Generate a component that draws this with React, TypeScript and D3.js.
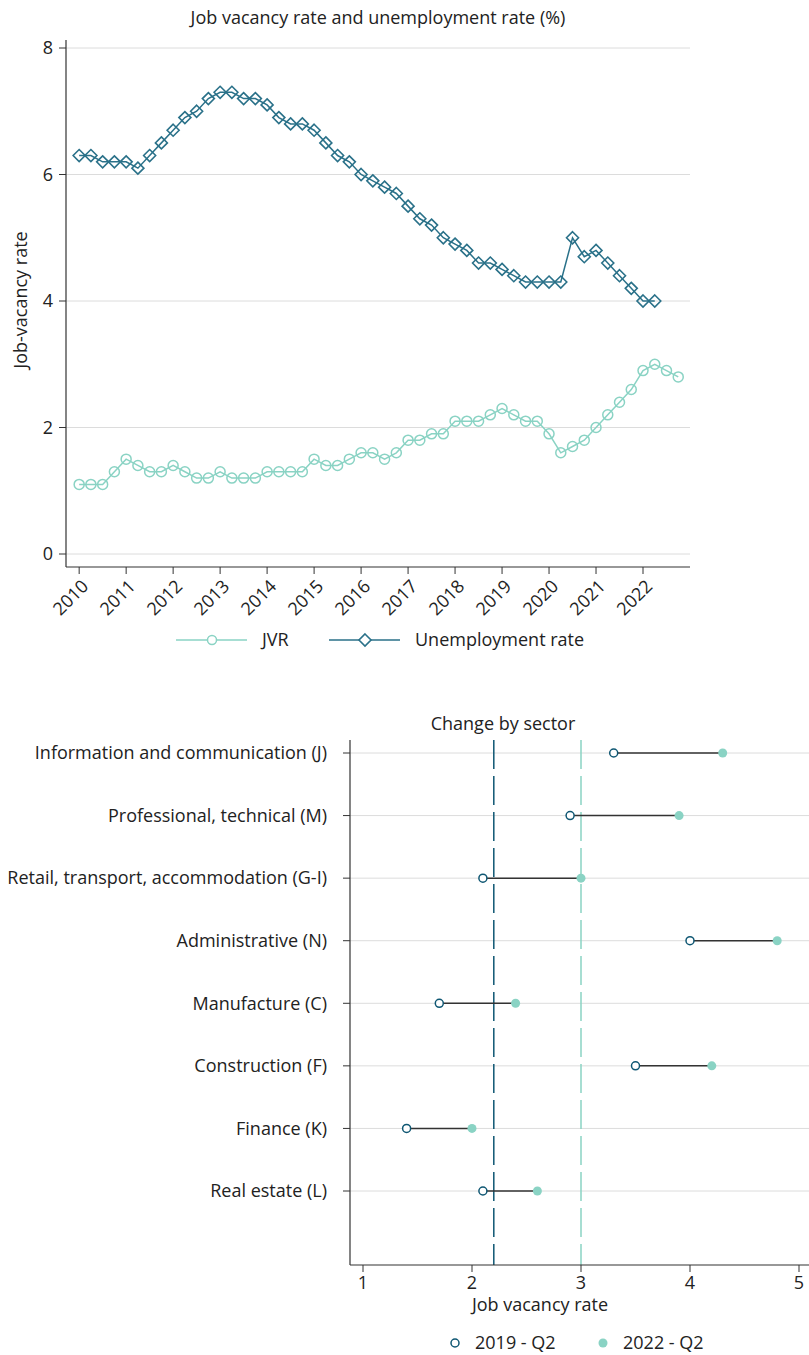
import * as d3 from "d3";

// quarterly series, first value = 2010 Q1
const startYear = 2010;
const jvr = [
  1.1, 1.1, 1.1, 1.3, 1.5, 1.4, 1.3, 1.3, 1.4, 1.3, 1.2, 1.2, 1.3, 1.2, 1.2, 1.2,
  1.3, 1.3, 1.3, 1.3, 1.5, 1.4, 1.4, 1.5, 1.6, 1.6, 1.5, 1.6, 1.8, 1.8, 1.9, 1.9,
  2.1, 2.1, 2.1, 2.2, 2.3, 2.2, 2.1, 2.1, 1.9, 1.6, 1.7, 1.8, 2.0, 2.2, 2.4, 2.6,
  2.9, 3.0, 2.9, 2.8,
];
const unemployment = [
  6.3, 6.3, 6.2, 6.2, 6.2, 6.1, 6.3, 6.5, 6.7, 6.9, 7.0, 7.2, 7.3, 7.3, 7.2, 7.2,
  7.1, 6.9, 6.8, 6.8, 6.7, 6.5, 6.3, 6.2, 6.0, 5.9, 5.8, 5.7, 5.5, 5.3, 5.2, 5.0,
  4.9, 4.8, 4.6, 4.6, 4.5, 4.4, 4.3, 4.3, 4.3, 4.3, 5.0, 4.7, 4.8, 4.6, 4.4, 4.2,
  4.0, 4.0,
];
const yearTicks = [2010, 2011, 2012, 2013, 2014, 2015, 2016, 2017, 2018, 2019, 2020, 2021, 2022];
const rateTicks = [0, 2, 4, 6, 8];

const sectors = [
  "Information and communication (J)",
  "Professional, technical (M)",
  "Retail, transport, accommodation (G-I)",
  "Administrative (N)",
  "Manufacture (C)",
  "Construction (F)",
  "Finance (K)",
  "Real estate (L)",
];
const q2019 = [3.3, 2.9, 2.1, 4.0, 1.7, 3.5, 1.4, 2.1];
const q2022 = [4.3, 3.9, 3.0, 4.8, 2.4, 4.2, 2.0, 2.6];
const avg2019 = 2.2;
const avg2022 = 3.0;
const sectorTicks = [1, 2, 3, 4, 5];

const light = "#8ad3c4";
const dark = "#2a7189";
const navy = "#0f5773";
const axisColor = "#333";
const gridColor = "#dcdcdc";
const textColor = "#222";
const font = "'Open Sans', sans-serif";
const fsTitle = 18;
const fsLabel = 18;

export default function App() {
  // top panel scales
  const x = d3.scaleLinear().domain([2009.72, 2023]).range([66, 690]);
  const y = d3.scaleLinear().domain([0, 8]).range([554, 48]);
  const t = (i: number) => startYear + i / 4;

  const seriesLine = d3
    .line<number>()
    .x((_, i) => x(t(i)))
    .y((d) => y(d));

  // bottom panel scales
  const xb = d3.scaleLinear().domain([1, 5]).range([363, 799]);
  const yb = d3.scalePoint<string>().domain(sectors).range([753, 1191]);

  const diamond = (cx: number, cy: number, r: number) =>
    `M${cx},${cy - r}L${cx + r},${cy}L${cx},${cy + r}L${cx - r},${cy}Z`;

  return (
    <svg
      width={809}
      height={1355}
      style={{ position: "absolute", left: 0, top: 0, background: "#fff" }}
      fontFamily={font}
    >
      {/* ---------- top panel ---------- */}
      <text x={378} y={24} textAnchor="middle" fontSize={fsTitle} fill={textColor}>
        Job vacancy rate and unemployment rate (%)
      </text>
      {rateTicks.map((v) => (
        <g key={v}>
          <line x1={66} x2={690} y1={y(v)} y2={y(v)} stroke={gridColor} strokeWidth={1} />
          <line x1={59} x2={66} y1={y(v)} y2={y(v)} stroke={axisColor} />
          <text x={53} y={y(v)} dy="0.35em" textAnchor="end" fontSize={fsLabel} fill={textColor}>
            {v}
          </text>
        </g>
      ))}
      <line x1={66} x2={66} y1={40} y2={567} stroke={axisColor} strokeWidth={1.2} />
      <line x1={66} x2={690} y1={567} y2={567} stroke={axisColor} strokeWidth={1.2} />
      {yearTicks.map((yr) => (
        <g key={yr}>
          <line x1={x(yr)} x2={x(yr)} y1={567} y2={574} stroke={axisColor} />
          <text
            transform={`translate(${x(yr) + 6},${583}) rotate(-45)`}
            textAnchor="end"
            dy="0.35em"
            fontSize={fsLabel}
            fill={textColor}
          >
            {yr}
          </text>
        </g>
      ))}
      <text
        transform={`translate(${27},${300}) rotate(-90)`}
        textAnchor="middle"
        fontSize={fsTitle}
        fill={textColor}
      >
        Job-vacancy rate
      </text>

      <path d={seriesLine(jvr) ?? ""} fill="none" stroke={light} strokeWidth={1.5} />
      {jvr.map((v, i) => (
        <circle key={i} cx={x(t(i))} cy={y(v)} r={5} fill="none" stroke={light} strokeWidth={1.5} />
      ))}
      <path d={seriesLine(unemployment) ?? ""} fill="none" stroke={dark} strokeWidth={1.5} />
      {unemployment.map((v, i) => (
        <path key={i} d={diamond(x(t(i)), y(v), 6)} fill="none" stroke={dark} strokeWidth={1.6} />
      ))}

      {/* legend */}
      <line x1={176} x2={247} y1={640} y2={640} stroke={light} strokeWidth={1.5} />
      <circle cx={212} cy={640} r={4.5} fill="#fff" stroke={light} strokeWidth={1.5} />
      <text x={262} y={640} dy="0.35em" fontSize={fsLabel} fill={textColor}>
        JVR
      </text>
      <line x1={329} x2={400} y1={640} y2={640} stroke={dark} strokeWidth={1.5} />
      <path d={diamond(365, 640, 6)} fill="#fff" stroke={dark} strokeWidth={1.6} />
      <text x={415} y={640} dy="0.35em" fontSize={fsLabel} fill={textColor}>
        Unemployment rate
      </text>

      {/* ---------- bottom panel ---------- */}
      <text x={503} y={730} textAnchor="middle" fontSize={fsTitle} fill={textColor}>
        Change by sector
      </text>
      {sectors.map((s) => (
        <g key={s}>
          <line x1={350} x2={809} y1={yb(s)} y2={yb(s)} stroke={gridColor} strokeWidth={1} />
          <line x1={343} x2={350} y1={yb(s)} y2={yb(s)} stroke={axisColor} />
          <text x={327} y={yb(s)} dy="0.35em" textAnchor="end" fontSize={fsLabel} fill={textColor}>
            {s}
          </text>
        </g>
      ))}
      <line
        x1={xb(avg2019)}
        x2={xb(avg2019)}
        y1={740}
        y2={1265}
        stroke={navy}
        strokeWidth={1.5}
        strokeDasharray="29 7"
      />
      <line
        x1={xb(avg2022)}
        x2={xb(avg2022)}
        y1={740}
        y2={1265}
        stroke={light}
        strokeWidth={1.5}
        strokeDasharray="29 7"
      />
      <line x1={350} x2={350} y1={740} y2={1265} stroke={axisColor} strokeWidth={1.2} />
      <line x1={350} x2={809} y1={1265} y2={1265} stroke={axisColor} strokeWidth={1.2} />
      {sectorTicks.map((v) => (
        <g key={v}>
          <line x1={xb(v)} x2={xb(v)} y1={1265} y2={1272} stroke={axisColor} />
          <text x={xb(v)} y={1283} dy="0.35em" textAnchor="middle" fontSize={fsLabel} fill={textColor}>
            {v}
          </text>
        </g>
      ))}
      <text x={540} y={1305} dy="0.35em" textAnchor="middle" fontSize={fsTitle} fill={textColor}>
        Job vacancy rate
      </text>
      {sectors.map((s, i) => (
        <g key={s}>
          <line
            x1={xb(q2019[i])}
            x2={xb(q2022[i])}
            y1={yb(s)}
            y2={yb(s)}
            stroke="#333"
            strokeWidth={1.5}
          />
          <circle cx={xb(q2022[i])} cy={yb(s)} r={4.5} fill={light} />
          <circle cx={xb(q2019[i])} cy={yb(s)} r={4} fill="#fff" stroke={navy} strokeWidth={1.5} />
        </g>
      ))}

      {/* legend */}
      <circle cx={455} cy={1343} r={4} fill="#fff" stroke={navy} strokeWidth={1.5} />
      <text x={475} y={1343} dy="0.35em" fontSize={fsLabel} fill={textColor}>
        2019 - Q2
      </text>
      <circle cx={603} cy={1343} r={4.5} fill={light} />
      <text x={623} y={1343} dy="0.35em" fontSize={fsLabel} fill={textColor}>
        2022 - Q2
      </text>
    </svg>
  );
}
